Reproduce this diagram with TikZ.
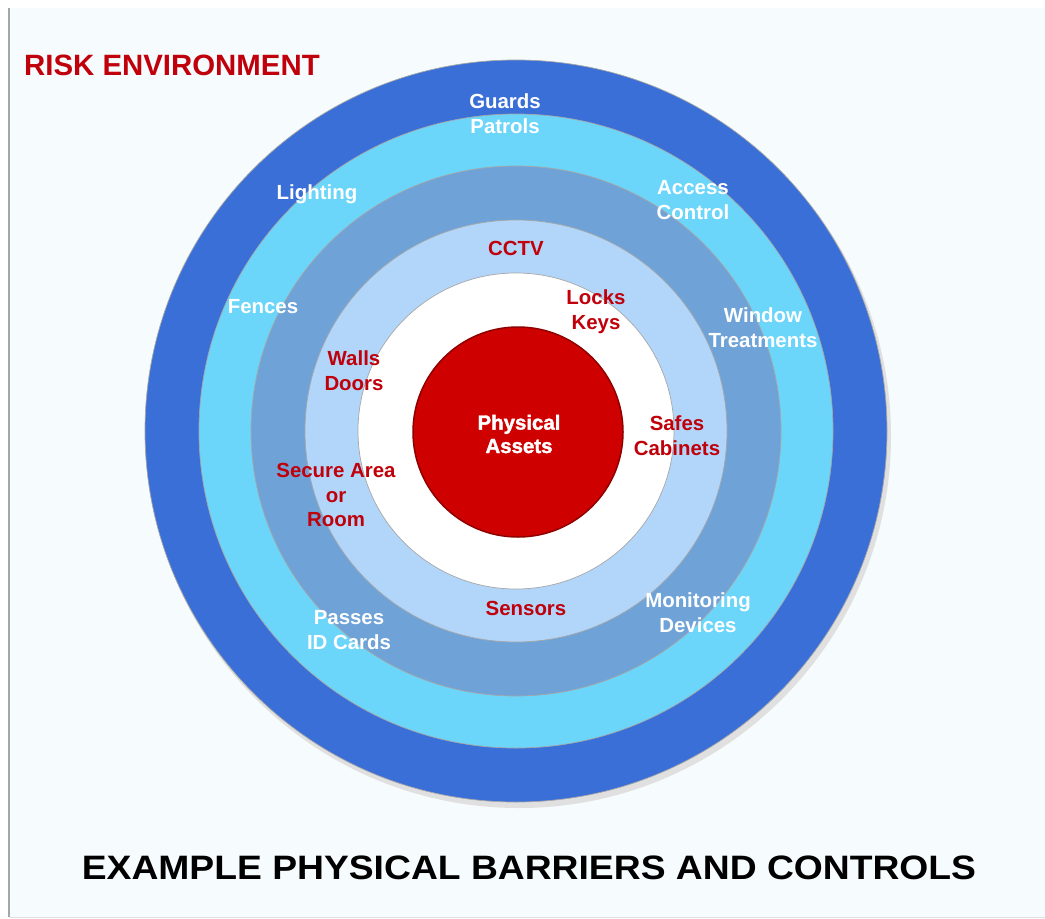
\documentclass[tikz,border=0pt]{standalone}
\usepackage{fontspec}
\setmainfont{Liberation Sans}
\newfontfamily\heavyfont{Liberation Sans Bold}[FakeBold=1.8]
\definecolor{bgc}{RGB}{246,251,253}
\definecolor{ringA}{RGB}{58,111,216}
\definecolor{ringB}{RGB}{108,213,250}
\definecolor{ringC}{RGB}{111,163,216}
\definecolor{ringD}{RGB}{178,214,250}
\definecolor{ringE}{RGB}{255,255,255}
\definecolor{core}{RGB}{206,0,0}
\definecolor{labred}{RGB}{192,0,10}
\begin{document}
\begin{tikzpicture}[x=1bp,y=-1bp,
  disk/.style={circle, inner sep=0pt, minimum size=#1, draw=black!35, line width=0.7bp},
  wlab/.style={align=center, text=white, font=\fontsize{20.5}{25}\selectfont\bfseries, inner sep=0pt},
  rlab/.style={align=center, text=labred, font=\fontsize{20.5}{25}\selectfont\bfseries, inner sep=0pt}]
\useasboundingbox (0,0) rectangle (1045,919);
\fill[white] (0,0) rectangle (1045,919);
\node[draw=none, fill=bgc, minimum width=1036bp, minimum height=909bp, inner sep=0pt, anchor=north west] (panel) at (9,8) {};
\draw[black!35, line width=1.2bp] (panel.north west) -- (panel.south west);
\draw[black!12, line width=1bp] (panel.south west) -- (panel.south east);
% shadow
\fill[black!12] (519,436) circle[radius=372bp];
\node[disk=742bp, fill=ringA] (r1) at (516,431) {};
\node[disk=634bp, fill=ringB] (r2) at (516,431) {};
\node[disk=530bp, fill=ringC] (r3) at (516,431) {};
\node[disk=422bp, fill=ringD] (r4) at (516,431) {};
\node[disk=316bp, fill=ringE] (r5) at (516,431) {};
\node[disk=210bp, fill=core, draw=core!70!black, line width=1.5bp] (r6) at (518,432) {};
% labels
\node[wlab] (guards) at (505,114) {Guards\\Patrols};
\node[wlab] (light) at (317,194) {Lighting};
\node[wlab] (access) at (693,200) {Access\\Control};
\node[rlab] (cctv) at (516,248) {CCTV};
\node[wlab] (fences) at (263,307) {Fences};
\node[rlab] (locks) at (596,312) {Locks\\Keys};
\node[wlab] (window) at (763,328) {Window\\Treatments};
\node[rlab] (walls) at (354,371) {Walls\\Doors};
\node[align=center, text=white, font=\fontsize{20.5}{23.5}\heavyfont, inner sep=0pt] (assets) at (519,434) {Physical\\Assets};
\node[rlab] (safes) at (677,436) {Safes\\Cabinets};
\node[rlab] (secure) at (336,495) {Secure Area\\or\\Room};
\node[rlab] (sensors) at (526,608) {Sensors};
\node[wlab] (monitor) at (698,613) {Monitoring\\Devices};
\node[wlab] (passes) at (349,630) {Passes\\ID Cards};
\node[anchor=west, text=labred, font=\fontsize{29.5}{32}\selectfont\bfseries, inner sep=0pt] (risk) at (24,65) {RISK ENVIRONMENT};
\node[text=black, font=\fontsize{34}{40}\selectfont\bfseries, inner sep=0pt] (title) at (529,868) {\scalebox{1.1}[1]{EXAMPLE PHYSICAL BARRIERS AND CONTROLS}};
\end{tikzpicture}
\end{document}
